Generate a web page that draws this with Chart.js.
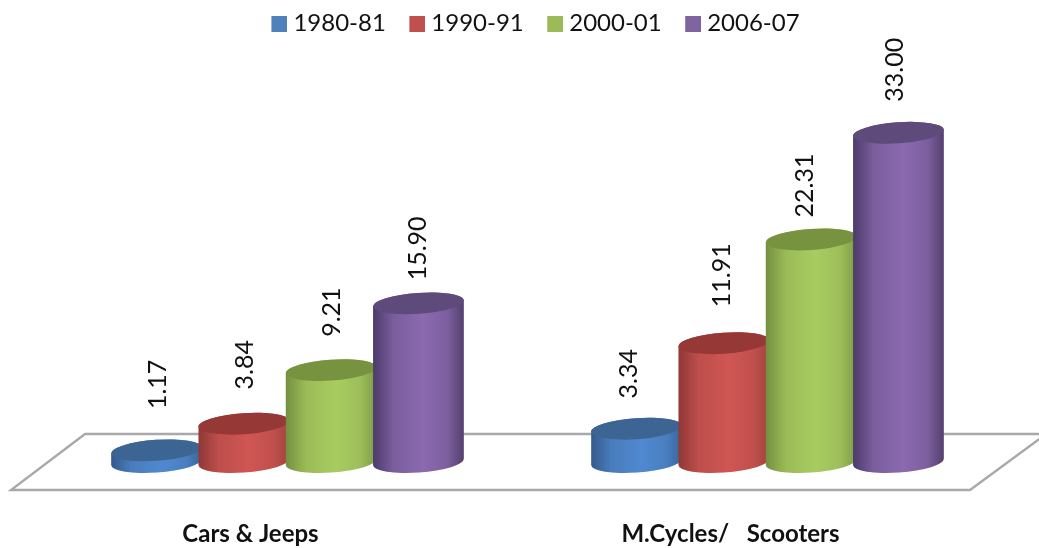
<!DOCTYPE html>
<html><head><meta charset="utf-8">
<script src="https://cdn.jsdelivr.net/npm/chart.js@4"></script>
<style>html,body{margin:0;padding:0;background:#fff}#w{width:1039px;height:548px}canvas{filter:blur(0.4px)}</style>
</head><body><div id="w"><canvas id="c" width="1039" height="548"></canvas></div>
<script>
const categories = ["Cars & Jeeps", "M.Cycles/   Scooters"];
const seriesNames = ["1980-81", "1990-91", "2000-01", "2006-07"];
const values1980 = [1.17, 3.34];
const values1990 = [3.84, 11.91];
const values2000 = [9.21, 22.31];
const values2006 = [15.90, 33.00];

const palette = [
  {legend:"#4f81bd", edgeL:"#35598a", mid:"#5089d0", edgeR:"#3a659a", cap:"#3d6594"},
  {legend:"#c0504d", edgeL:"#8f3836", mid:"#cf5653", edgeR:"#a0413f", cap:"#953836"},
  {legend:"#9bbb59", edgeL:"#748f3f", mid:"#a9cc60", edgeR:"#7e9a48", cap:"#779340"},
  {legend:"#8064a2", edgeL:"#4c3a68", mid:"#8b6ab0", edgeR:"#54406f", cap:"#5f4a7c"}
];
const labelNudgeY = [[-6,5],[1,-8],[2,6],[5,-3]];
const labelNudgeX = [[0,-9],[0,-3],[0,-7],[-2,-5]];
const TILT = -0.07, RY = 10.5;

function mix(a,b,t){
  const n=s=>[1,3,5].map(i=>parseInt(s.substr(i,2),16));
  const A=n(a),B=n(b);
  return "rgb("+A.map((v,i)=>Math.round(v+(B[i]-v)*t)).join(",")+")";
}
function cylinder(ctx, el, p){
  const cx = el.x, rx = el.width/2, top = el.y, base = el.base;
  const g = ctx.createLinearGradient(cx-rx,0,cx+rx,0);
  g.addColorStop(0,p.edgeL); g.addColorStop(0.22,mix(p.edgeL,p.mid,0.72));
  g.addColorStop(0.55,p.mid); g.addColorStop(0.82,mix(p.edgeR,p.mid,0.72)); g.addColorStop(1,p.edgeR);
  ctx.beginPath();
  ctx.ellipse(cx,base,rx,RY,TILT,0,Math.PI,false);
  ctx.ellipse(cx,top,rx,RY,TILT,Math.PI,0,false);
  ctx.closePath();
  ctx.fillStyle = g; ctx.fill();
  ctx.beginPath();
  ctx.ellipse(cx,top,rx,RY,TILT,0,Math.PI*2);
  ctx.fillStyle = p.cap; ctx.fill();
}
class CylinderController extends Chart.BarController {
  draw(){
    if(this.index!==0) return;
    const chart=this.chart, ctx=chart.ctx;
    ctx.save();
    categories.forEach((_,i)=>{
      chart.data.datasets.forEach((ds,d)=>{
        cylinder(ctx, chart.getDatasetMeta(d).data[i], palette[d]);
      });
    });
    ctx.restore();
  }
}
CylinderController.id="cylinder";
CylinderController.defaults=Chart.BarController.defaults;
CylinderController.overrides=Chart.BarController.overrides;
Chart.register(CylinderController);

function legendSwatch(color){
  const c=document.createElement("canvas"); c.width=22; c.height=16;
  const x=c.getContext("2d"); x.fillStyle=color; x.fillRect(6,0,16,16);
  return c;
}

const floorPlugin={id:"floor",
  afterLayout(chart){ chart.legend.left+=8; chart.legend.right+=8; },
  beforeDatasetsDraw(chart){
  const ctx=chart.ctx, b=chart.chartArea.bottom;
  const pts=[[11,b+28],[970,b+28],[1046,b-28],[85,b-28]];
  ctx.save();
  ctx.beginPath(); pts.forEach((p,i)=>i?ctx.lineTo(p[0],p[1]):ctx.moveTo(p[0],p[1])); ctx.closePath();
  ctx.strokeStyle="#a9a9a9"; ctx.lineWidth=2.4; ctx.stroke();
  ctx.restore();
}};
const valueLabels={id:"valueLabels",afterDatasetsDraw(chart){
  const ctx=chart.ctx;
  ctx.save();
  ctx.fillStyle="#111"; ctx.font='25px Lato'; ctx.textAlign="center"; ctx.textBaseline="middle";
  chart.data.datasets.forEach((ds,d)=>{
    chart.getDatasetMeta(d).data.forEach((el,i)=>{
      ctx.save();
      ctx.translate(el.x+1+labelNudgeX[d][i], el.y-60+labelNudgeY[d][i]);
      ctx.rotate(-Math.PI/2);
      ctx.fillText(ds.data[i].toFixed(2),0,0);
      ctx.restore();
    });
  });
  ctx.restore();
}};

new Chart(document.getElementById("c"),{
  type:"cylinder",
  data:{labels:categories,datasets:[
    {label:seriesNames[0],data:values1980,backgroundColor:palette[0].legend,clip:false},
    {label:seriesNames[1],data:values1990,backgroundColor:palette[1].legend,clip:false},
    {label:seriesNames[2],data:values2000,backgroundColor:palette[2].legend,clip:false},
    {label:seriesNames[3],data:values2006,backgroundColor:palette[3].legend,clip:false}
  ]},
  plugins:[floorPlugin,valueLabels],
  options:{
    responsive:false,animation:false,
    layout:{padding:{left:47.5,right:31.5,top:-12,bottom:0}},
    datasets:{cylinder:{categoryPercentage:0.7275,barPercentage:1.042}},
    plugins:{
      tooltip:{enabled:false},
      legend:{position:"top",labels:{
        font:{family:"Lato",size:24},color:"#111",boxWidth:10,boxHeight:16,usePointStyle:true,padding:23.5,
        generateLabels(chart){
          return Chart.defaults.plugins.legend.labels.generateLabels(chart).map((l,i)=>{
            l.pointStyle=legendSwatch(palette[i].legend); return l;
          });
        }
      }}
    },
    scales:{
      x:{grid:{display:false,drawTicks:false},border:{display:false},
         ticks:{font:{family:"Lato",size:24,weight:"bold"},color:"#111",padding:58,maxRotation:0,labelOffset:-37},
         afterFit(s){s.height=86;}},
      y:{display:false,min:0,max:41.75}
    }
  }
});
</script></body></html>
